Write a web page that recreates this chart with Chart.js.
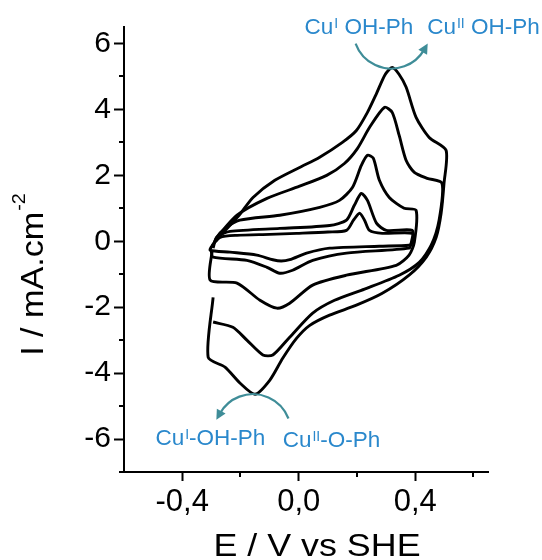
<!DOCTYPE html>
<html><head><meta charset="utf-8">
<script src="https://cdn.jsdelivr.net/npm/chart.js@4.4.1/dist/chart.umd.min.js"></script>
<style>html,body{margin:0;padding:0;background:#fff;}canvas{display:block;}</style>
</head><body>
<canvas id="c" width="542" height="560"></canvas>
<script>
// ---- data (E in V vs SHE, I in mA.cm-2) ----
const loop1E = [-0.294,-0.270,-0.212,-0.100,-0.007,0.100,0.164,0.188,0.209,0.226,0.243,0.287,0.390,0.390,0.379,0.277,0.106,0.027,-0.031,-0.060,-0.089,-0.144,-0.236,-0.304,-0.294];
const loop1I = [-0.09,0.12,0.18,0.21,0.24,0.28,0.33,0.64,0.85,0.64,0.33,0.24,0.24,-0.06,-0.12,-0.15,-0.21,-0.36,-0.56,-0.60,-0.56,-0.42,-0.33,-0.27,-0.09];

const loop2E = [-0.297,-0.277,-0.236,-0.065,0.106,0.164,0.191,0.215,0.236,0.267,0.301,0.390,0.386,0.379,0.164,0.048,-0.021,-0.065,-0.109,-0.178,-0.294,-0.301];
const loop2I = [-0.15,0.15,0.30,0.39,0.48,0.64,1.09,1.45,1.24,0.55,0.33,0.33,-0.06,-0.21,-0.36,-0.58,-0.88,-0.97,-0.79,-0.58,-0.48,-0.27];

const loop3E = [-0.294,-0.284,-0.253,-0.202,-0.065,0.072,0.140,0.185,0.215,0.236,0.256,0.277,0.311,0.362,0.403,0.397,0.379,0.335,0.164,0.048,-0.031,-0.075,-0.133,-0.212,-0.304,-0.297];
const loop3I = [-0.21,0.09,0.39,0.64,0.79,1.03,1.24,1.64,2.30,2.61,2.52,1.85,1.33,1.00,0.94,-0.03,-0.42,-0.73,-1.03,-1.33,-1.88,-2.03,-1.79,-1.27,-1.18,-0.27];

const loop4E = [-0.284,-0.212,-0.109,0.003,0.096,0.157,0.202,0.243,0.294,0.321,0.345,0.369,0.397,0.441,0.492,0.482,0.455,0.414,0.345,0.226,0.123,0.048,-0.031,-0.089,-0.123,-0.178,-0.226,-0.294];
const loop4I = [0.09,0.79,1.30,1.67,2.00,2.36,2.82,3.45,4.06,3.91,3.21,2.45,2.09,1.91,1.76,0.64,-0.12,-0.64,-1.03,-1.45,-1.79,-2.18,-2.91,-3.45,-3.45,-3.00,-2.61,-2.45];

const loop5E = [-0.284,-0.243,-0.202,-0.157,-0.082,0.003,0.072,0.150,0.198,0.236,0.267,0.297,0.321,0.345,0.369,0.403,0.448,0.506,0.499,0.489,0.472,0.438,0.379,0.287,0.198,0.106,0.038,-0.007,-0.055,-0.099,-0.150,-0.202,-0.253,-0.311,-0.294];
const loop5I = [0.03,0.42,0.82,1.33,1.85,2.24,2.55,3.00,3.36,3.91,4.48,5.06,5.27,5.06,4.67,3.76,3.15,2.76,1.76,0.85,0.12,-0.48,-1.03,-1.58,-1.94,-2.24,-2.55,-2.94,-3.55,-4.21,-4.64,-4.30,-3.82,-3.52,-1.70];

const xMajorTicks = [-0.4, 0, 0.4];
const xTickLabels = ['-0,4', '0,0', '0,4'];
const yMajorTicks = [-6, -4, -2, 0, 2, 4, 6];
const yTickLabels = ['-6', '-4', '-2', '0', '2', '4', '6'];

const xTitle = 'E / V vs SHE';
const yTitleMain = 'I / mA.cm';
const yTitleSup = '-2';

// annotation texts: [prefix, roman superscript, suffix]
const topLeftText = ['Cu', 'I', ' OH-Ph'];
const topRightText = ['Cu', 'II', ' OH-Ph'];
const bottomLeftText = ['Cu', 'I', '-OH-Ph'];
const bottomRightText = ['Cu', 'II', '-O-Ph'];

// ---- build datasets ----
const loopsE = [loop1E, loop2E, loop3E, loop4E, loop5E];
const loopsI = [loop1I, loop2I, loop3I, loop4I, loop5I];
const datasets = loopsE.map((E, k) => ({
  label: 'cycle ' + (k + 1),
  data: E.map((e, j) => ({x: e, y: loopsI[k][j]})),
  showLine: true,
  borderColor: '#000',
  borderWidth: 2.9,
  pointRadius: 0,
  tension: 0.25,
  fill: false
}));

const FONT = "'Liberation Sans', Arial, sans-serif";
const BLUE = '#2a88cc';
const TEAL = '#3f8d98';

function idx(arr, v){ for (let i=0;i<arr.length;i++) if (Math.abs(arr[i]-v) < 1e-6) return i; return -1; }

// annotation geometry (anchors in data units)
const annotCfg = {
  arcs: [
    {e: 0.318, i: 6.39, r: 38, a0: 160, a1: 30},
    {e: -0.157, i: -5.79, r: 38, a0: -21, a1: -151}
  ],
  texts: [
    {parts: topLeftText, e: 0.020, i: 6.30},
    {parts: topRightText, e: 0.441, i: 6.30},
    {parts: bottomLeftText, e: -0.492, i: -6.18},
    {parts: bottomRightText, e: -0.055, i: -6.24}
  ]
};

function drawRich(ctx, parts, x, y){
  ctx.textBaseline = 'alphabetic';
  ctx.textAlign = 'left';
  ctx.font = '22.5px ' + FONT;
  ctx.fillText(parts[0], x, y);
  x += ctx.measureText(parts[0]).width + 1;
  ctx.font = '14px ' + FONT;
  ctx.fillText(parts[1], x, y - 6);
  x += ctx.measureText(parts[1]).width;
  ctx.font = '22.5px ' + FONT;
  ctx.fillText(parts[2], x, y);
}

const decor = {
  id: 'decor',
  beforeDraw(chart){
    const c = chart.ctx; c.save(); c.fillStyle = '#fff'; c.fillRect(0,0,chart.width,chart.height); c.restore();
  },
  afterDraw(chart){
    const ctx = chart.ctx, xs = chart.scales.x, ys = chart.scales.y, area = chart.chartArea;
    ctx.save();
    // minor ticks
    ctx.strokeStyle = '#000'; ctx.lineWidth = 2;
    xs.ticks.forEach(t => {
      if (idx(xMajorTicks, t.value) < 0) {
        const px = Math.round(xs.getPixelForValue(t.value));
        ctx.beginPath(); ctx.moveTo(px, area.bottom); ctx.lineTo(px, area.bottom + 5); ctx.stroke();
      }
    });
    ys.ticks.forEach(t => {
      if (idx(yMajorTicks, t.value) < 0) {
        const py = Math.round(ys.getPixelForValue(t.value));
        ctx.beginPath(); ctx.moveTo(area.left, py); ctx.lineTo(area.left - 5, py); ctx.stroke();
      }
    });
    // arcs with arrowheads
    ctx.strokeStyle = TEAL; ctx.fillStyle = TEAL; ctx.lineWidth = 2.2;
    annotCfg.arcs.forEach(a => {
      const cx = xs.getPixelForValue(a.e), cy = ys.getPixelForValue(a.i);
      const t0 = a.a0 * Math.PI/180, t1 = a.a1 * Math.PI/180;
      ctx.beginPath(); ctx.arc(cx, cy, a.r, t0, t1, true); ctx.stroke();
      const px = cx + a.r*Math.cos(t1), py = cy + a.r*Math.sin(t1);
      const dx = Math.sin(t1), dy = -Math.cos(t1);
      const nx = -dy, ny = dx;
      ctx.beginPath();
      ctx.moveTo(px + dx*7, py + dy*7);
      ctx.lineTo(px - dx*3 + nx*5, py - dy*3 + ny*5);
      ctx.lineTo(px - dx*3 - nx*5, py - dy*3 - ny*5);
      ctx.closePath(); ctx.fill();
    });
    // blue labels
    ctx.fillStyle = BLUE;
    annotCfg.texts.forEach(t => {
      drawRich(ctx, t.parts, xs.getPixelForValue(t.e), ys.getPixelForValue(t.i));
    });
    // axis titles
    ctx.fillStyle = '#000';
    ctx.textBaseline = 'alphabetic';
    // x title
    ctx.save();
    ctx.font = '32px ' + FONT;
    const wx = ctx.measureText(xTitle).width;
    ctx.translate((area.left + area.right)/2 + 11, area.bottom + 84);
    ctx.scale(1.12, 1);
    ctx.textAlign = 'left';
    ctx.fillText(xTitle, -wx/2, 0);
    ctx.restore();
    // y title (rotated with superscript)
    ctx.save();
    ctx.font = '31px ' + FONT;
    const wm = ctx.measureText(yTitleMain).width;
    ctx.font = '18px ' + FONT;
    const ws = ctx.measureText(yTitleSup).width;
    const tot = wm + ws + 1;
    ctx.translate(43, (area.top + area.bottom)/2 + 25);
    ctx.rotate(-Math.PI/2);
    ctx.scale(1.1, 1);
    ctx.textAlign = 'left';
    ctx.font = '31px ' + FONT;
    ctx.fillText(yTitleMain, -tot/2, 0);
    ctx.font = '18px ' + FONT;
    ctx.fillText(yTitleSup, -tot/2 + wm + 1, -18);
    ctx.restore();
    ctx.restore();
  }
};

Chart.defaults.font.family = FONT;

new Chart(document.getElementById('c'), {
  type: 'scatter',
  data: {datasets},
  options: {
    responsive: false,
    animation: false,
    events: [],
    layout: {padding: {top: 27, right: 54, left: 0, bottom: 0}},
    plugins: {legend: {display: false}, tooltip: {enabled: false}},
    scales: {
      x: {
        type: 'linear', min: -0.6, max: 0.65,
        afterFit(s){ s.height = 88; },
        ticks: {
          stepSize: 0.2, includeBounds: false, autoSkip: false, maxRotation: 0, minRotation: 0,
          color: '#000', font: {size: 31}, padding: 3,
          callback(v){ const k = idx(xMajorTicks, v); return k < 0 ? '' : xTickLabels[k]; }
        },
        grid: {
          drawOnChartArea: false, drawTicks: true, tickLength: 9, tickWidth: 2,
          tickColor(c){ return idx(xMajorTicks, c.tick.value) < 0 ? 'rgba(0,0,0,0)' : '#000'; }
        },
        border: {display: true, color: '#000', width: 2}
      },
      y: {
        type: 'linear', min: -7, max: 6.5,
        afterFit(s){ s.width = 124; },
        ticks: {
          stepSize: 1, includeBounds: false, autoSkip: false,
          color: '#000', font: {size: 30}, padding: 3,
          callback(v){ const k = idx(yMajorTicks, v); return k < 0 ? '' : yTickLabels[k]; }
        },
        grid: {
          drawOnChartArea: false, drawTicks: true, tickLength: 10, tickWidth: 2,
          tickColor(c){ return idx(yMajorTicks, c.tick.value) < 0 ? 'rgba(0,0,0,0)' : '#000'; }
        },
        border: {display: true, color: '#000', width: 2}
      }
    }
  },
  plugins: [decor]
});
</script>
</body></html>
